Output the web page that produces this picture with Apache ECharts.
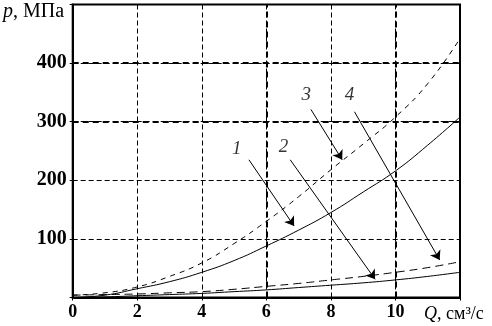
<!DOCTYPE html>
<html>
<head>
<meta charset="utf-8">
<script src="https://cdn.jsdelivr.net/npm/echarts@6/dist/echarts.min.js"></script>
<style>html,body{margin:0;padding:0;background:#fff;}#c{width:492px;height:326px;}</style>
</head>
<body>
<div id="c"></div>
<script>
// Q values (cm^3/s)
const qValues = [0, 1, 2, 3, 4, 5, 6, 7, 8, 9, 10, 11, 12];
// p values (MPa)
const curve1 = [0, 4, 15, 27, 43, 63, 88, 115, 145, 180, 216, 260, 308];
const curve2 = [0, 1, 3, 5, 7, 10, 13, 17, 21, 25, 30, 36, 43];
const curve3 = [4, 8, 18, 36, 59, 92, 130, 172, 218, 262, 308, 365, 442];
const curve4 = [4, 5, 6, 8, 10, 14, 19, 24, 30, 36, 43, 51, 61];

const xTickLabels = ['0', '2', '4', '6', '8', '10', ''];
const yTickLabels = ['', '100', '200', '300', '400', ''];
const thickX = [6, 10];
const thickY = [300, 400];

// curve number annotations (data coordinates)
const labelTexts = ['1', '2', '3', '4'];
const labelPos = [[5.08, 253], [6.53, 256], [7.24, 345], [8.58, 345]];
const arrowStarts = [[5.46, 235], [6.74, 235], [7.38, 321], [8.73, 317]];
const arrowEnds = [[6.86, 122], [9.37, 31], [8.35, 235], [11.37, 64]];

const FONT = 'Liberation Serif';
const pairs = arr => qValues.map((q, i) => [q, arr[i]]);

function curve(name, data, type) {
  return {
    name: name, type: 'line', data: pairs(data), smooth: true, showSymbol: false,
    lineStyle: { color: '#000', width: 1, type: type }, silent: true, z: 5
  };
}

const chart = echarts.init(document.getElementById('c'), null, { renderer: 'canvas' });
chart.setOption({
  animation: false,
  backgroundColor: '#fff',
  grid: { left: 72.7, right: 32, top: 4.5, bottom: 28.5, show: true, borderColor: '#000', borderWidth: 2 },
  xAxis: {
    type: 'value', min: 0, max: 12, interval: 2,
    axisLine: { show: true, lineStyle: { color: '#000', width: 2 } },
    axisTick: { show: true, length: 3, lineStyle: { color: '#000' } },
    axisLabel: {
      color: '#000', fontFamily: FONT, fontSize: 18, fontWeight: 'bold', margin: 6,
      formatter: v => xTickLabels[Math.round(v / 2)]
    },
    splitLine: { show: true, lineStyle: { color: '#000', width: 1, type: [5, 3] } }
  },
  yAxis: {
    type: 'value', min: 0, max: 500, interval: 100,
    axisLine: { show: true, lineStyle: { color: '#000', width: 2 } },
    axisTick: { show: true, length: 3, lineStyle: { color: '#000' } },
    axisLabel: {
      color: '#000', fontFamily: FONT, fontSize: 20, fontWeight: 'bold', margin: 6,
      formatter: v => yTickLabels[Math.round(v / 100)]
    },
    splitLine: { show: true, lineStyle: { color: '#000', width: 1, type: [5, 3] } }
  },
  graphic: [
    {
      type: 'text', left: 3, top: 2, z: 10,
      style: {
        text: '{i|p}, МПа', fill: '#000', font: '20px "' + FONT + '"',
        rich: { i: { fontStyle: 'italic', fontFamily: FONT, fontSize: 20 } }
      }
    },
    {
      type: 'text', left: 424, top: 305, z: 10,
      style: {
        text: '{i|Q}, см³/с', fill: '#000', font: '18px "' + FONT + '"',
        rich: { i: { fontStyle: 'italic', fontFamily: FONT, fontSize: 18 } }
      }
    }
  ],
  series: [
    {
      type: 'line', data: [], silent: true,
      markLine: {
        silent: true, symbol: 'none', animation: false,
        label: { show: false },
        lineStyle: { color: '#000', width: 2, type: [6, 4] },
        data: thickX.map(v => ({ xAxis: v })).concat(thickY.map(v => ({ yAxis: v })))
      }
    },
    curve('1', curve1, 'solid'),
    curve('2', curve2, 'solid'),
    curve('3', curve3, [5, 5]),
    curve('4', curve4, [8, 5]),
    {
      type: 'scatter', silent: true, symbolSize: 0, z: 6,
      data: labelPos.map((p, i) => ({ value: p, name: labelTexts[i] })),
      label: {
        show: true, position: 'inside', formatter: p => p.name,
        color: '#000', fontFamily: FONT, fontStyle: 'italic', fontSize: 19
      },
      markLine: {
        silent: true, animation: false,
        symbol: ['none', 'arrow'], symbolSize: 9,
        label: { show: false },
        lineStyle: { color: '#000', width: 1, type: 'solid' },
        itemStyle: { color: '#000' },
        data: arrowStarts.map((s, i) => [{ coord: s }, { coord: arrowEnds[i] }])
      }
    }
  ]
});
</script>
</body>
</html>
